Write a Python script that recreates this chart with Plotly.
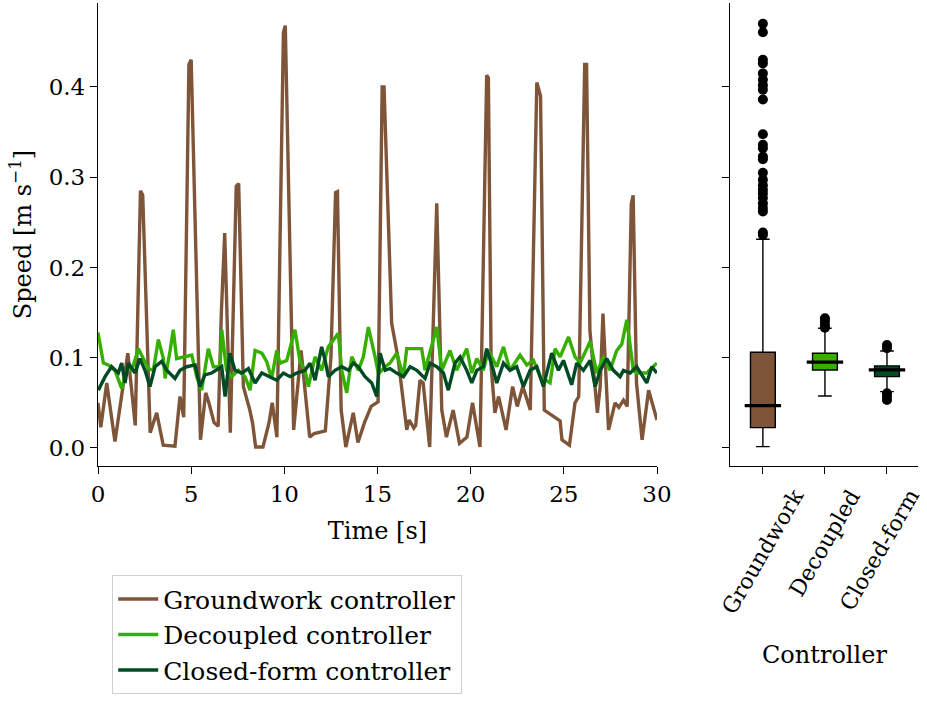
import plotly.graph_objects as go

FONT = "DejaVu Serif"
C_GW = "#7f5539"
C_DC = "#35b000"
C_CF = "#004b23"

# ---- time series (t [s], speed [m/s]) ----
gw_t = [0.0, 0.15, 0.47, 0.91, 1.6, 2.0, 2.28, 2.4, 2.8, 3.15, 3.5, 4.13, 4.4, 4.6, 4.88, 5.0, 5.5,
        5.78, 5.95, 6.23, 6.45, 6.62, 6.8, 7.1, 7.42, 7.55, 7.8, 8.0, 8.15, 8.3, 8.46, 8.85, 9.18,
        9.35, 9.6, 9.95, 10.05, 10.5, 10.9, 11.36, 11.6, 12.2, 12.5, 12.75, 12.85, 13.05, 13.3,
        13.7, 13.95, 14.3, 14.66, 15.03, 15.25, 15.35, 15.76, 16.1, 16.57, 16.7, 16.95, 17.05,
        17.28, 17.45, 17.8, 18.18, 18.45, 18.7, 19.06, 19.4, 19.8, 20.1, 20.5, 20.86, 20.95,
        21.1, 21.3, 21.5, 21.9, 22.25, 22.5, 22.8, 23.2, 23.55, 23.75, 23.95, 24.8, 24.9, 25.3,
        25.6, 25.8, 26.12, 26.22, 26.4, 26.8, 26.95, 27.1, 27.4, 27.75, 27.95, 28.2, 28.4,
        28.62, 28.72, 28.9, 29.2, 29.55, 30.0]
gw_v = [0.05, 0.023, 0.072, 0.007, 0.105, 0.025, 0.285, 0.28, 0.017, 0.039, 0.003, 0.002, 0.057,
        0.034, 0.425, 0.43, 0.009, 0.061, 0.05, 0.028, 0.024, 0.15, 0.238, 0.017, 0.29, 0.293,
        0.068, 0.053, 0.042, 0.027, 0.001, 0.001, 0.028, 0.05, 0.012, 0.46, 0.468, 0.02, 0.108,
        0.012, 0.016, 0.019, 0.1, 0.283, 0.284, 0.042, 0.001, 0.039, 0.006, 0.028, 0.046, 0.051,
        0.40, 0.40, 0.138, 0.10, 0.02, 0.031, 0.022, 0.025, 0.075, 0.072, 0.001, 0.271, 0.042,
        0.012, 0.042, 0.005, 0.012, 0.05, 0.001, 0.413, 0.41, 0.09, 0.039, 0.057, 0.02, 0.068,
        0.046, 0.068, 0.042, 0.405, 0.39, 0.042, 0.03, 0.009, 0.003, 0.05, 0.057, 0.425, 0.425,
        0.13, 0.039, 0.068, 0.149, 0.02, 0.05, 0.045, 0.053, 0.046, 0.27, 0.28, 0.072, 0.009,
        0.064, 0.031]

dc_t = [0.0, 0.29, 0.55, 0.91, 1.27, 1.54, 1.81, 2.17, 2.43, 2.70, 2.97, 3.24, 3.51, 3.60, 3.87,
        4.04, 4.22, 5.03, 5.30, 5.56, 5.92, 6.19, 6.55, 6.64, 6.90, 7.17, 7.53, 7.89, 8.16, 8.43,
        8.79, 9.05, 9.32, 9.59, 9.77, 10.13, 10.57, 10.84, 11.11, 11.29, 11.65, 12.00, 12.36,
        12.72, 12.90, 13.08, 13.35, 13.62, 13.97, 14.24, 14.51, 14.87, 15.05, 15.41, 15.67,
        16.03, 16.39, 16.57, 17.37, 17.55, 18.18, 18.45, 18.89, 19.25, 19.79, 20.06, 20.33,
        20.68, 20.95, 21.40, 21.76, 22.11, 22.65, 23.01, 23.37, 23.73, 24.26, 24.53, 24.80,
        25.25, 25.60, 25.87, 26.41, 26.77, 27.12, 27.48, 27.84, 28.11, 28.38, 28.73, 28.91,
        29.45, 29.99]
dc_v = [0.128, 0.094, 0.092, 0.086, 0.066, 0.086, 0.086, 0.110, 0.099, 0.088, 0.086, 0.120,
        0.099, 0.077, 0.108, 0.131, 0.099, 0.103, 0.079, 0.064, 0.110, 0.090, 0.090, 0.131,
        0.086, 0.079, 0.086, 0.079, 0.064, 0.108, 0.105, 0.096, 0.077, 0.108, 0.094, 0.097,
        0.131, 0.096, 0.086, 0.068, 0.101, 0.086, 0.112, 0.123, 0.127, 0.086, 0.061, 0.101,
        0.086, 0.101, 0.134, 0.101, 0.082, 0.090, 0.094, 0.105, 0.079, 0.110, 0.110, 0.086,
        0.134, 0.086, 0.108, 0.086, 0.110, 0.083, 0.099, 0.086, 0.108, 0.090, 0.112, 0.086,
        0.103, 0.092, 0.097, 0.079, 0.072, 0.110, 0.101, 0.123, 0.101, 0.094, 0.118, 0.083,
        0.101, 0.086, 0.108, 0.115, 0.142, 0.086, 0.083, 0.083, 0.094]

cf_t = [0.02, 0.38, 0.73, 1.09, 1.27, 1.45, 1.63, 1.99, 2.25, 2.52, 2.79, 3.06, 3.42, 3.69, 4.13,
        4.40, 4.76, 5.21, 5.47, 5.74, 6.10, 6.37, 6.64, 6.82, 7.08, 7.35, 7.71, 8.07, 8.43, 8.79,
        9.23, 9.59, 9.95, 10.31, 10.66, 11.11, 11.38, 11.65, 12.00, 12.19, 12.36, 12.72, 13.08,
        13.44, 13.70, 13.97, 14.33, 14.69, 14.96, 15.14, 15.41, 15.67, 16.03, 16.39, 16.75,
        17.11, 17.55, 17.82, 18.18, 18.54, 18.80, 19.16, 19.43, 19.79, 20.06, 20.33, 20.68,
        20.86, 21.22, 21.40, 21.76, 22.11, 22.47, 22.83, 23.19, 23.55, 23.90, 24.35, 24.71,
        24.98, 25.42, 25.69, 26.05, 26.41, 26.68, 26.95, 27.30, 27.66, 28.02, 28.20, 28.56,
        28.91, 29.45, 29.72, 29.99]
cf_v = [0.064, 0.079, 0.090, 0.083, 0.094, 0.072, 0.094, 0.083, 0.099, 0.086, 0.068, 0.090,
        0.096, 0.086, 0.077, 0.086, 0.090, 0.092, 0.068, 0.081, 0.083, 0.086, 0.090, 0.057,
        0.105, 0.086, 0.083, 0.088, 0.072, 0.083, 0.079, 0.075, 0.083, 0.079, 0.083, 0.086,
        0.094, 0.075, 0.112, 0.097, 0.079, 0.086, 0.090, 0.086, 0.094, 0.090, 0.079, 0.072,
        0.057, 0.105, 0.086, 0.088, 0.083, 0.079, 0.090, 0.086, 0.077, 0.094, 0.090, 0.083,
        0.064, 0.094, 0.101, 0.086, 0.072, 0.086, 0.090, 0.110, 0.086, 0.072, 0.094, 0.086,
        0.090, 0.068, 0.086, 0.090, 0.068, 0.105, 0.086, 0.097, 0.070, 0.094, 0.086, 0.097,
        0.068, 0.086, 0.099, 0.086, 0.079, 0.086, 0.083, 0.090, 0.072, 0.090, 0.083]

# ---- box plot statistics ----
categories = ["Groundwork", "Decoupled", "Closed-form"]
box_colors = [C_GW, C_DC, C_CF]
box_q1 = [0.0225, 0.0864, 0.079]
box_median = [0.0469, 0.095, 0.0864]
box_q3 = [0.106, 0.105, 0.0909]
box_lowerfence = [0.0015, 0.0576, 0.0624]
box_upperfence = [0.2312, 0.1326, 0.1075]
gw_outliers = [0.470, 0.4605, 0.430, 0.426, 0.415, 0.408, 0.402, 0.397, 0.386, 0.3476, 0.336,
               0.332, 0.323, 0.320, 0.305, 0.297, 0.291, 0.286, 0.282, 0.277, 0.271, 0.266,
               0.262, 0.2386, 0.236]
dc_outliers = [0.1437, 0.140, 0.136, 0.1333]
cf_outliers = [0.114, 0.1104, 0.0606, 0.0569, 0.0532]
outliers = [gw_outliers, dc_outliers, cf_outliers]

series = [("Groundwork controller", gw_t, gw_v, C_GW),
          ("Decoupled controller", dc_t, dc_v, C_DC),
          ("Closed-form controller", cf_t, cf_v, C_CF)]

fig = go.Figure()
for name, t, v, c in series:
    fig.add_trace(go.Scatter(x=t, y=v, mode="lines", name=name,
                             line=dict(color=c, width=3.4), xaxis="x", yaxis="y"))

for i, cat in enumerate(categories):
    fig.add_trace(go.Box(x=[cat], q1=[box_q1[i]], median=[box_median[i]], q3=[box_q3[i]],
                         lowerfence=[box_lowerfence[i]], upperfence=[box_upperfence[i]],
                         width=0.4, whiskerwidth=0.55, fillcolor=box_colors[i],
                         line=dict(color="black", width=1.4), boxpoints=False,
                         showlegend=False, xaxis="x2", yaxis="y2", hoverinfo="skip"))
    fig.add_trace(go.Scatter(x=[cat] * len(outliers[i]), y=outliers[i], mode="markers",
                             marker=dict(color="black", size=10), showlegend=False,
                             xaxis="x2", yaxis="y2", hoverinfo="skip"))
fig.add_trace(go.Scatter(x=categories, y=box_median, mode="markers",
                         marker=dict(symbol="line-ew", size=26,
                                     line=dict(color="black", width=3.2)),
                         showlegend=False, xaxis="x2", yaxis="y2", hoverinfo="skip"))

W, H = 927, 703
axis_common = dict(showline=True, linecolor="black", linewidth=1.3, ticks="outside",
                   ticklen=7, tickwidth=1.3, tickcolor="black", showgrid=False,
                   zeroline=False, automargin=False,
                   tickfont=dict(family=FONT, size=23, color="black"))

# rotated category labels, centred under their ticks (as in the reference)
label_shift = [0, 0, -7]
for cat, dx in zip(categories, label_shift):
    fig.add_annotation(x=cat, xref="x2", y=1 - 482 / H, yref="paper", text=cat,
                       textangle=-60, xanchor="center", yanchor="top", showarrow=False,
                       xshift=dx, font=dict(family=FONT, size=22, color="black"))
fig.add_annotation(x=824 / W, xref="paper", y=1 - 655 / H, yref="paper", text="Controller",
                   xanchor="center", yanchor="middle", showarrow=False,
                   font=dict(family=FONT, size=24, color="black"))

fig.update_layout(
    width=W, height=H,
    margin=dict(l=0, r=0, t=0, b=0),
    paper_bgcolor="white", plot_bgcolor="white",
    font=dict(family=FONT, size=24, color="black"),
    xaxis=dict(domain=[98 / W, 657 / W], range=[0, 30], tickvals=[0, 5, 10, 15, 20, 25, 30],
               anchor="y", title=dict(text="Time [s]", font=dict(family=FONT, size=24),
                                      standoff=16), **axis_common),
    yaxis=dict(domain=[1 - 466 / H, 1 - 3 / H], range=[-0.02, 0.493],
               tickvals=[0.0, 0.1, 0.2, 0.3, 0.4], tickformat=".1f", anchor="x",
               title=dict(text="Speed [m s<sup>−1</sup>]", font=dict(family=FONT, size=24),
                          standoff=10), **axis_common),
    xaxis2=dict(domain=[730 / W, 918 / W], range=[-0.53, 2.5], type="category",
                categoryorder="array", categoryarray=categories, showticklabels=False,
                anchor="y2", **axis_common),
    yaxis2=dict(domain=[1 - 466 / H, 1 - 3 / H], range=[-0.02, 0.493],
                tickvals=[0.0, 0.1, 0.2, 0.3, 0.4], showticklabels=False, anchor="x2",
                **axis_common),
    legend=dict(x=112 / W, y=1 - 575 / H, xanchor="left", yanchor="top",
                bgcolor="white", bordercolor="#d0d0d0", borderwidth=1.2, itemwidth=40,
                font=dict(family=FONT, size=25, color="black"), tracegroupgap=0),
    showlegend=True,
)

fig.write_html("out.html")
